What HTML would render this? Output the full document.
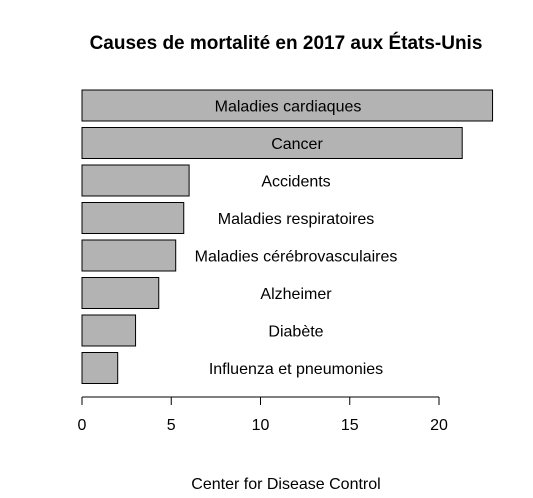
<!DOCTYPE html>
<html><head><meta charset="utf-8"><style>
body{margin:0;background:#fff;font-family:"Liberation Sans",Arial,sans-serif;}
</style></head><body>
<svg width="533" height="493" xmlns="http://www.w3.org/2000/svg">
<text x="286" y="49" text-anchor="middle" font-size="19" font-weight="bold">Causes de mortalité en 2017 aux États-Unis</text>
<g id="bars"></g>
<g id="axis"></g>
<text x="286" y="489" text-anchor="middle" font-size="16">Center for Disease Control</text>
</svg>
<script>
const categories=["Maladies cardiaques","Cancer","Accidents","Maladies respiratoires","Maladies cérébrovasculaires","Alzheimer","Diabète","Influenza et pneumonies"];
const values=[23.0,21.3,6.0,5.7,5.25,4.3,3.0,2.0];
const labelX=[288,297,296,296,296,296,296,296];
const ticks=[0,5,10,15,20];
const NS="http://www.w3.org/2000/svg";
const x=v=>82+v*17.85;
const y=i=>90+i*37.5;
const bh=31;
const bars=document.getElementById('bars');
function mk(t,a){const e=document.createElementNS(NS,t);for(const k in a)e.setAttribute(k,a[k]);return e;}
categories.forEach((c,i)=>{
  const r=mk('rect',{x:x(0),y:y(i),width:x(values[i])-x(0),height:bh,fill:'#b3b3b3',stroke:'#000','stroke-width':1});
  
  
  bars.appendChild(r);
  const t=mk('text',{x:labelX[i],y:y(i)+bh/2+6,'text-anchor':'middle','font-size':16});
  t.textContent=c;
  
  
  bars.appendChild(t);
});
const ax=document.getElementById('axis');
ax.appendChild(mk('line',{x1:x(0),x2:x(20),y1:397,y2:397,stroke:'#000'}));
ticks.forEach(v=>{
  ax.appendChild(mk('line',{x1:x(v),x2:x(v),y1:397,y2:405,stroke:'#000'}));
  const t=mk('text',{x:x(v),y:430,'text-anchor':'middle','font-size':16});
  t.textContent=v;
  
  
  ax.appendChild(t);
});
</script>
</body></html>
